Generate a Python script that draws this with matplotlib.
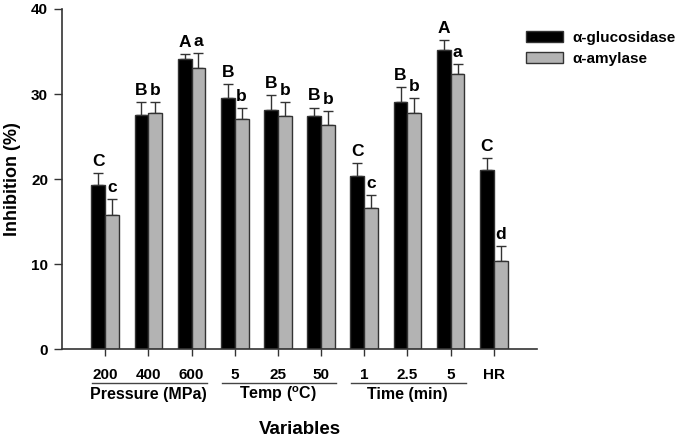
import matplotlib
matplotlib.use("Agg")
import matplotlib.pyplot as plt
import matplotlib.transforms as mtransforms
from matplotlib.patches import Patch
import numpy as np

plt.rcParams['font.family'] = ['Liberation Sans', 'DejaVu Sans']

categories = ["200", "400", "600", "5", "25", "50", "1", "2.5", "5", "HR"]
glucosidase = [19.3, 27.5, 34.1, 29.5, 28.1, 27.4, 20.4, 29.1, 35.2, 21.1]
glucosidase_err = [1.4, 1.5, 0.6, 1.7, 1.8, 1.0, 1.5, 1.7, 1.1, 1.4]
amylase = [15.8, 27.8, 33.1, 27.1, 27.4, 26.4, 16.6, 27.8, 32.4, 10.4]
amylase_err = [1.8, 1.2, 1.7, 1.2, 1.6, 1.6, 1.5, 1.7, 1.1, 1.7]
gluc_letters = ["C", "B", "A", "B", "B", "B", "C", "B", "A", "C"]
amyl_letters = ["c", "b", "a", "b", "b", "b", "c", "b", "a", "d"]
groups = ["Pressure (MPa)", "Temp ($\\mathregular{^o}$C)", "Time (min)"]
group_members = [(0, 2), (3, 5), (6, 8)]
series_names = ["\u03b1-glucosidase", "\u03b1-amylase"]

fig = plt.figure(figsize=(6.85, 4.4), dpi=100)
ax = fig.add_axes([62/685, 1-349/440, (537-62)/685, 340/440])

x = np.arange(len(categories))
w = 0.32
edge = "#333333"
gray = "#b3b3b3"
ax.bar(x - w/2, glucosidase, w, color="black", edgecolor=edge, linewidth=1.0, zorder=2)
ax.bar(x + w/2, amylase, w, color=gray, edgecolor=edge, linewidth=1.0, zorder=2)
ax.errorbar(x - w/2, glucosidase, yerr=[np.zeros(len(x)), glucosidase_err], fmt="none",
            ecolor=edge, elinewidth=1.0, capsize=3.3, capthick=1.0, zorder=1)
ax.errorbar(x + w/2, amylase, yerr=[np.zeros(len(x)), amylase_err], fmt="none",
            ecolor=edge, elinewidth=1.0, capsize=3.3, capthick=1.0, zorder=1)

for i in range(len(x)):
    ax.annotate(gluc_letters[i], (x[i] - w/2, glucosidase[i] + glucosidase_err[i]),
                xytext=(0, 3), textcoords="offset points", ha="center", va="bottom",
                fontsize=12.5, fontweight="bold")
    ax.annotate(amyl_letters[i], (x[i] + w/2, amylase[i] + amylase_err[i]),
                xytext=(0, 3), textcoords="offset points", ha="center", va="bottom",
                fontsize=12.5, fontweight="bold")

ax.set_xlim(-1, 10)
ax.set_ylim(0, 40)
ax.set_yticks([0, 10, 20, 30, 40])
ax.set_xticks(x)
ax.set_xticklabels(categories)
for s in ["top", "right"]:
    ax.spines[s].set_visible(False)
for s in ["left", "bottom"]:
    ax.spines[s].set_color(edge)
    ax.spines[s].set_linewidth(1.2)
ax.tick_params(axis="both", direction="out", color=edge, width=1.0, labelsize=11)
ax.tick_params(axis="x", length=5, pad=9)
ax.tick_params(axis="y", length=6, pad=4)
for lab in ax.get_xticklabels() + ax.get_yticklabels():
    lab.set_fontweight("bold")

ax.set_ylabel("Inhibition (%)", fontsize=13, fontweight="bold", labelpad=7)

trans = mtransforms.blended_transform_factory(ax.transData, ax.transAxes)
for name, (a, b) in zip(groups, group_members):
    ax.plot([a - 0.3, b + 0.35], [-0.101, -0.101], transform=trans, color="#444444",
            linewidth=1.0, clip_on=False)
    ax.text((a + b) / 2, -0.133, name, transform=trans, ha="center", va="center",
            fontsize=11.5, fontweight="bold")

ax.text(0.5, -0.236, "Variables", transform=ax.transAxes, ha="center", va="center",
        fontsize=13.5, fontweight="bold")

handles = [Patch(facecolor="black", edgecolor=edge, linewidth=1.0),
           Patch(facecolor=gray, edgecolor=edge, linewidth=1.0)]
fig.legend(handles, series_names, loc="upper left", bbox_to_anchor=(520/685, 1-25/440),
           frameon=False, prop={"weight": "bold", "size": 11}, handlelength=2.4,
           handleheight=0.75, handletextpad=0.6, labelspacing=0.45, borderaxespad=0)

fig.savefig("out.png", dpi=100)
